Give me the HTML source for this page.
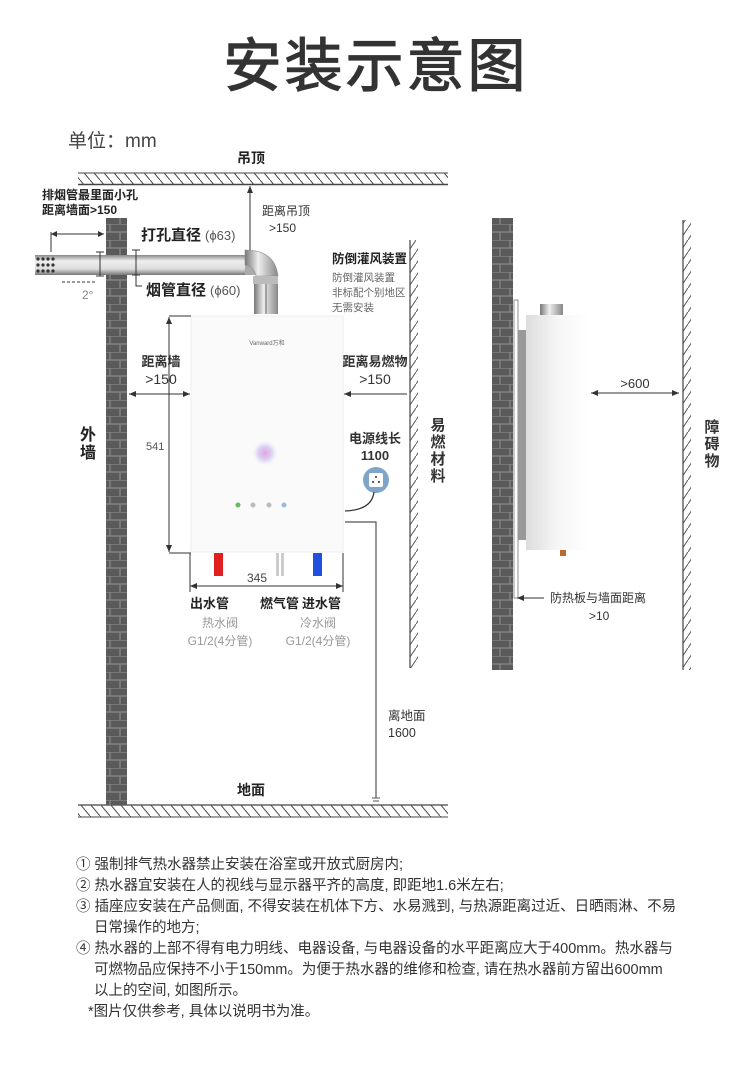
<!DOCTYPE html>
<html><head><meta charset="utf-8"><style>
html,body{margin:0;padding:0;background:#fff;}
svg{display:block;font-family:"Liberation Sans","Noto Sans CJK SC",sans-serif;}
.n{font-size:14.5px;fill:#333;}
</style></head><body>
<svg width="750" height="1072" viewBox="0 0 750 1072" xmlns="http://www.w3.org/2000/svg">
<defs>
<pattern id="brick" width="20" height="16" patternUnits="userSpaceOnUse">
<rect width="20" height="16" fill="#5a5a5a"/>
<path d="M0 0H20M0 8H20M10 0V8M0 8V16M20 8V16" stroke="#8a8a8a" stroke-width="1.2"/>
</pattern>
<pattern id="hatchH" width="10" height="12" patternUnits="userSpaceOnUse">
<path d="M0 0L10 12" stroke="#444" stroke-width="1"/>
</pattern>
<pattern id="hatchV" width="8" height="12" patternUnits="userSpaceOnUse">
<path d="M0 12L8 0" stroke="#555" stroke-width="1"/>
</pattern>
<linearGradient id="pipe" x1="0" y1="0" x2="0" y2="1">
<stop offset="0" stop-color="#888"/><stop offset="0.3" stop-color="#eee"/><stop offset="0.7" stop-color="#ddd"/><stop offset="1" stop-color="#777"/>
</linearGradient>
<linearGradient id="pipeV" x1="0" y1="0" x2="1" y2="0">
<stop offset="0" stop-color="#777"/><stop offset="0.4" stop-color="#eee"/><stop offset="1" stop-color="#888"/>
</linearGradient>
<linearGradient id="side" x1="0" y1="0" x2="1" y2="0">
<stop offset="0" stop-color="#ddd"/><stop offset="0.5" stop-color="#f6f6f6"/><stop offset="1" stop-color="#fff"/>
</linearGradient>
<radialGradient id="glow"><stop offset="0" stop-color="#e8a0e0"/><stop offset="0.5" stop-color="#c8b8f0" stop-opacity="0.6"/><stop offset="1" stop-color="#fff" stop-opacity="0"/></radialGradient>
</defs>

<text x="376" y="86" text-anchor="middle" font-size="58" fill="#333" stroke="#333" stroke-width="1.2" letter-spacing="3">安装示意图</text>
<text x="68" y="147" font-size="19" fill="#444">单位：mm</text>

<!-- ceiling -->
<text x="251" y="163" text-anchor="middle" font-size="14" font-weight="bold" fill="#222">吊顶</text>
<rect x="78" y="173" width="370" height="11" fill="url(#hatchH)"/>
<line x1="78" y1="173" x2="448" y2="173" stroke="#444" stroke-width="1"/>
<line x1="78" y1="184.5" x2="448" y2="184.5" stroke="#444" stroke-width="1.5"/>

<!-- floor -->
<text x="251" y="795" text-anchor="middle" font-size="14" font-weight="bold" fill="#222">地面</text>
<rect x="78" y="805" width="370" height="12" fill="url(#hatchH)"/>
<line x1="78" y1="805" x2="448" y2="805" stroke="#444" stroke-width="1.2"/>
<line x1="78" y1="817" x2="448" y2="817" stroke="#444" stroke-width="1"/>

<!-- left brick wall -->
<rect x="106" y="218" width="21" height="587" fill="url(#brick)"/>
<text x="88" y="440" font-size="16" font-weight="bold" fill="#222" text-anchor="middle">外</text>
<text x="88" y="458" font-size="16" font-weight="bold" fill="#222" text-anchor="middle">墙</text>

<!-- right flammable wall -->
<rect x="410" y="240" width="8" height="428" fill="url(#hatchV)"/>
<line x1="410" y1="240" x2="410" y2="668" stroke="#444" stroke-width="1.2"/>
<g font-size="15" font-weight="bold" fill="#333" text-anchor="middle">
<text x="438" y="430">易</text><text x="438" y="447">燃</text><text x="438" y="464">材</text><text x="438" y="481">料</text></g>

<!-- flue pipe -->
<rect x="35" y="255" width="210" height="20" fill="url(#pipe)"/>
<g fill="#333"><circle cx="38" cy="259" r="1.6"/><circle cx="43" cy="259" r="1.6"/><circle cx="48" cy="259" r="1.6"/><circle cx="53" cy="259" r="1.6"/>
<circle cx="38" cy="265" r="1.6"/><circle cx="43" cy="265" r="1.6"/><circle cx="48" cy="265" r="1.6"/><circle cx="53" cy="265" r="1.6"/>
<circle cx="38" cy="271" r="1.6"/><circle cx="43" cy="271" r="1.6"/><circle cx="48" cy="271" r="1.6"/><circle cx="53" cy="271" r="1.6"/></g>
<path d="M245 250 Q272 252 276 275 L250 275 Q250 275 245 275 Z" fill="#aaa"/>
<path d="M245 250 Q275 250 278 276 L256 276 Q254 266 245 265 Z" fill="url(#pipeV)" stroke="#888" stroke-width="0.6"/>
<rect x="253" y="276" width="25" height="8" fill="#bbb"/>
<rect x="254" y="284" width="24" height="30" fill="url(#pipeV)"/>
<line x1="266" y1="284" x2="266" y2="314" stroke="#666"/>
<!-- dims pipe -->
<line x1="51" y1="232" x2="51" y2="252" stroke="#333"/>
<line x1="51" y1="234" x2="104" y2="234" stroke="#333"/><path d="M51 234l6 -3v6zM104 234l-6 -3v6z" fill="#333"/>
<text x="42" y="199" font-size="12" font-weight="bold" fill="#222">排烟管最里面小孔</text>
<text x="42" y="214" font-size="12" font-weight="bold" fill="#222">距离墙面&gt;150</text>
<line x1="100" y1="252" x2="100" y2="276" stroke="#333"/><line x1="96" y1="252" x2="104" y2="252" stroke="#333"/><line x1="96" y1="276" x2="104" y2="276" stroke="#333"/>
<line x1="136" y1="250" x2="136" y2="275" stroke="#333"/><line x1="132" y1="250" x2="140" y2="250" stroke="#333"/><line x1="132" y1="275" x2="140" y2="275" stroke="#333"/>
<path d="M136 275V286H142" stroke="#333" fill="none"/>
<line x1="62" y1="282" x2="97" y2="282" stroke="#333" stroke-dasharray="3 2"/>
<text x="82" y="299" font-size="12" fill="#888">2°</text>
<text x="141" y="240" font-size="15" font-weight="bold" fill="#222">打孔直径</text><text x="205" y="240" font-size="13" fill="#555">(ϕ63)</text>
<text x="146" y="295" font-size="15" font-weight="bold" fill="#222">烟管直径</text><text x="210" y="295" font-size="13" fill="#555">(ϕ60)</text>
<!-- ceiling dim -->
<line x1="250" y1="186" x2="250" y2="250" stroke="#333"/><path d="M250 186l-3 7h6z" fill="#333"/>
<text x="262" y="215" font-size="12" fill="#333">距离吊顶</text>
<text x="269" y="232" font-size="12" fill="#333">&gt;150</text>
<text x="332" y="263" font-size="12.5" font-weight="bold" fill="#222">防倒灌风装置</text>
<g font-size="10.5" fill="#666"><text x="332" y="281">防倒灌风装置</text><text x="332" y="296">非标配个别地区</text><text x="332" y="311">无需安装</text></g>

<!-- boiler front -->
<rect x="191" y="316" width="152" height="236" fill="#fafafa" stroke="#eee"/>
<text x="267" y="345" text-anchor="middle" font-size="6" fill="#666">Vanward万和</text>
<circle cx="265" cy="453" r="14" fill="url(#glow)"/>
<g fill="#bbb"><circle cx="238" cy="505" r="2.5" fill="#6b6"/><circle cx="253" cy="505" r="2.5"/><circle cx="269" cy="505" r="2.5"/><circle cx="284" cy="505" r="2.5" fill="#9bd"/></g>
<!-- pipes -->
<rect x="214" y="553" width="9" height="23" fill="#e02020"/>
<rect x="276" y="553" width="3" height="23" fill="#ccc"/><rect x="281" y="553" width="3" height="23" fill="#ccc"/>
<rect x="313" y="553" width="9" height="23" fill="#2050e0"/>
<!-- dims front -->
<line x1="169" y1="316" x2="191" y2="316" stroke="#333"/>
<line x1="169" y1="553" x2="191" y2="553" stroke="#333"/>
<line x1="169" y1="317" x2="169" y2="552" stroke="#333"/><path d="M169 317l-3 7h6zM169 552l-3 -7h6z" fill="#333"/>
<text x="146" y="450" font-size="11" fill="#555">541</text>
<line x1="190" y1="553" x2="190" y2="592" stroke="#333"/><line x1="343" y1="553" x2="343" y2="592" stroke="#333"/>
<line x1="190" y1="586" x2="343" y2="586" stroke="#333"/><path d="M190 586l7 -3v6zM343 586l-7 -3v6z" fill="#333"/>
<text x="257" y="582" text-anchor="middle" font-size="12" fill="#444">345</text>
<line x1="129" y1="394" x2="190" y2="394" stroke="#333"/><path d="M129 394l7 -3v6zM190 394l-7 -3v6z" fill="#333"/>
<text x="161" y="366" text-anchor="middle" font-size="13" font-weight="bold" fill="#333">距离墙</text>
<text x="161" y="384" text-anchor="middle" font-size="14" fill="#333">&gt;150</text>
<line x1="344" y1="394" x2="407" y2="394" stroke="#333"/><path d="M344 394l7 -3v6z" fill="#333"/>
<text x="375" y="366" text-anchor="middle" font-size="13" font-weight="bold" fill="#333">距离易燃物</text>
<text x="375" y="384" text-anchor="middle" font-size="14" fill="#333">&gt;150</text>
<text x="375" y="443" text-anchor="middle" font-size="13" font-weight="bold" fill="#333">电源线长</text>
<text x="375" y="460" text-anchor="middle" font-size="13" font-weight="bold" fill="#333">1100</text>
<circle cx="376" cy="480" r="13" fill="#7fa6c8"/><rect x="369" y="473" width="14" height="14" rx="2" fill="#fff"/>
<g fill="#333"><circle cx="376" cy="477" r="1"/><circle cx="373" cy="482" r="1"/><circle cx="379" cy="482" r="1"/></g>
<path d="M345 511 Q372 510 374 492" stroke="#333" fill="none" stroke-width="1.2"/>
<path d="M345 522H376V798" stroke="#555" fill="none" stroke-width="1.2"/>
<line x1="372" y1="798" x2="380" y2="798" stroke="#555"/><line x1="373" y1="801" x2="379" y2="801" stroke="#555"/>
<text x="388" y="720" font-size="12.5" fill="#333">离地面</text>
<text x="388" y="737" font-size="12.5" fill="#333">1600</text>
<g font-size="13" font-weight="bold" fill="#222"><text x="190" y="608">出水管</text><text x="260" y="608">燃气管</text><text x="302" y="608">进水管</text></g>
<g font-size="12" fill="#999"><text x="220" y="627" text-anchor="middle">热水阀</text><text x="220" y="645" text-anchor="middle">G1/2(4分管)</text>
<text x="318" y="627" text-anchor="middle">冷水阀</text><text x="318" y="645" text-anchor="middle">G1/2(4分管)</text></g>

<!-- right diagram -->
<rect x="492" y="218" width="21" height="452" fill="url(#brick)"/>
<rect x="514" y="300" width="4" height="298" fill="#fff" stroke="#777" stroke-width="0.8"/>
<rect x="518" y="330" width="8" height="210" fill="#999"/>
<rect x="526" y="315" width="64" height="235" fill="url(#side)"/>
<rect x="540" y="304" width="23" height="11" fill="url(#pipeV)"/>
<rect x="560" y="550" width="6" height="6" fill="#b86b2a"/>
<line x1="591" y1="393" x2="679" y2="393" stroke="#333"/><path d="M591 393l7 -3v6zM679 393l-7 -3v6z" fill="#333"/>
<text x="635" y="388" text-anchor="middle" font-size="13" fill="#333">&gt;600</text>
<rect x="683" y="220" width="8" height="450" fill="url(#hatchV)"/>
<line x1="683" y1="220" x2="683" y2="670" stroke="#444" stroke-width="1.2"/>
<g font-size="15" font-weight="bold" fill="#333" text-anchor="middle"><text x="712" y="432">障</text><text x="712" y="449">碍</text><text x="712" y="466">物</text></g>
<line x1="517" y1="598" x2="544" y2="598" stroke="#333"/><path d="M517 598l7 -3v6z" fill="#333"/>
<text x="550" y="602" font-size="12" fill="#333">防热板与墙面距离</text>
<text x="589" y="620" font-size="12" fill="#333">&gt;10</text>

<!-- notes -->
<g class="n">
<text x="76" y="869">① 强制排气热水器禁止安装在浴室或开放式厨房内;</text>
<text x="76" y="890">② 热水器宜安装在人的视线与显示器平齐的高度, 即距地1.6米左右;</text>
<text x="76" y="911">③ 插座应安装在产品侧面, 不得安装在机体下方、水易溅到, 与热源距离过近、日晒雨淋、不易</text>
<text x="94" y="932">日常操作的地方;</text>
<text x="76" y="953">④ 热水器的上部不得有电力明线、电器设备, 与电器设备的水平距离应大于400mm。热水器与</text>
<text x="94" y="974">可燃物品应保持不小于150mm。为便于热水器的维修和检查, 请在热水器前方留出600mm</text>
<text x="94" y="995">以上的空间, 如图所示。</text>
<text x="88" y="1016">*图片仅供参考, 具体以说明书为准。</text>
</g>
</svg>
</body></html>
